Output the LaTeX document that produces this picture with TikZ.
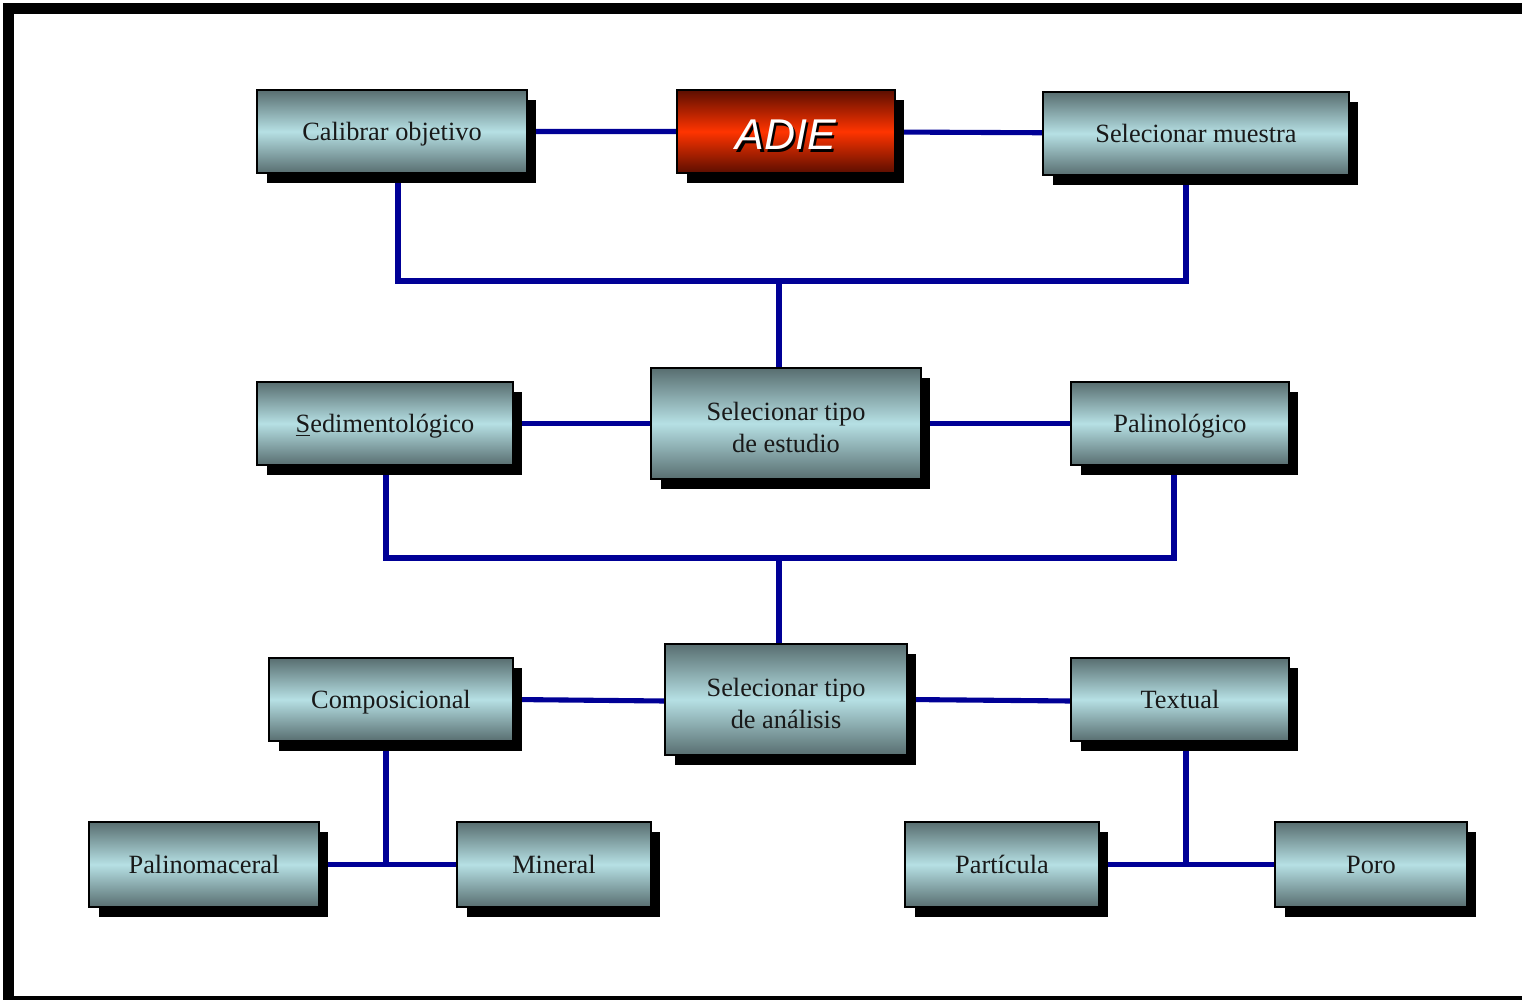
\documentclass[tikz,border=0pt]{standalone}
\usepackage{fontspec}
\setmainfont{Liberation Serif}
\newfontfamily\sansadie{Liberation Sans}
\usetikzlibrary{shadows,backgrounds}
\definecolor{grisfonce}{RGB}{88,110,112}
\definecolor{cyanclair}{RGB}{182,224,228}
\definecolor{rougefonce}{RGB}{92,14,0}
\definecolor{rougevif}{RGB}{255,52,0}
\definecolor{bleulien}{RGB}{0,0,150}
\begin{document}
\begin{tikzpicture}[x=0.02cm,y=-0.02cm]
			\tikzstyle{boite}=[draw=black,line width=0.7pt,inner sep=0pt,align=center,
				top color=grisfonce,bottom color=grisfonce,middle color=cyanclair,
				font=\fontsize{15}{18.2}\selectfont,text=black!90,
				drop shadow={opacity=1,fill=black,shadow xshift=0.19cm,shadow yshift=-0.2cm}]
			\tikzstyle{simple}=[boite,text height=12.5pt,text depth=2.5pt]
			\tikzstyle{rouge}=[boite,top color=rougefonce,bottom color=rougefonce,middle color=rougevif,
				font=\sansadie\itshape\fontsize{24.5}{28}\selectfont,text=white,
				text height=21pt,text depth=0pt]
			\tikzstyle{lien}=[draw=bleulien,line width=2.9pt]
			
			\def\HautBoite{1.66cm}
			\def\HautDouble{2.22cm}
			\def\Haut{\rule{0pt}{15pt}}
			
			\useasboundingbox (0,0) rectangle (1522,1000);
			% cadre
			\draw[line width=2.1mm] (8.5,1000) -- (8.5,8.5) -- (1522,8.5);
			\draw[line width=0.9mm] (5,998) -- (1522,998);
			
			% niveau 1
			\node[simple,minimum width=5.4cm,minimum height=\HautBoite] (Cal) at (392,131.5) {Calibrar objetivo};
			\node[rouge,minimum width=4.36cm,minimum height=\HautBoite] (ADIE) at (786,131.5)
				{\rlap{\hspace{1.3pt}\raisebox{-1.3pt}{\color{black}ADIE}}ADIE};
			\node[simple,minimum width=6.12cm,minimum height=\HautBoite] (Mue) at (1196,133.5) {Selecionar muestra};
			
			% niveau 2
			\node[simple,minimum width=5.12cm,minimum height=\HautBoite] (Sed) at (385,423.5) {\underline{S}edimentológico};
			\node[boite,minimum width=5.4cm,minimum height=\HautDouble] (Est) at (786,423.5) {\Haut Selecionar tipo\\de estudio};
			\node[simple,minimum width=4.36cm,minimum height=\HautBoite] (Pal) at (1180,423.5) {Palinológico};
			
			% niveau 3
			\node[simple,minimum width=4.88cm,minimum height=\HautBoite] (Com) at (391,699.5) {Composicional};
			\node[boite,minimum width=4.84cm,minimum height=\HautDouble] (Ana) at (786,699.5) {\Haut Selecionar tipo\\de análisis};
			\node[simple,minimum width=4.36cm,minimum height=\HautBoite] (Tex) at (1180,699.5) {Textual};
			
			% niveau 4
			\node[simple,minimum width=4.6cm,minimum height=1.7cm] (Pmc) at (204,864.5) {Palinomaceral};
			\node[simple,minimum width=3.88cm,minimum height=1.7cm] (Min) at (554,864.5) {Mineral};
			\node[simple,minimum width=3.88cm,minimum height=1.7cm] (Par) at (1002,864.5) {Partícula};
			\node[simple,minimum width=3.84cm,minimum height=1.7cm] (Por) at (1371,864.5) {Poro};
			
			% jonctions
			\coordinate (J1) at (779,281);
			\coordinate (J1g) at (398,281);
			\coordinate (J1d) at (1186,281);
			\coordinate (J2) at (779,558);
			\coordinate (J2g) at (386,558);
			\coordinate (J2d) at (1174,558);
			\coordinate (J3g) at (386,864);
			\coordinate (J3d) at (1186,864);
			
			\begin{scope}[on background layer]
				\draw[lien] (Cal) -- (ADIE) -- (Mue);
				\draw[lien] (J1g |- Cal) -- (J1g) -- (J1d) -- (J1d |- Mue);
				\draw[lien] (J1) -- (J1 |- Est.north);
				\draw[lien] (Sed) -- (Est) -- (Pal);
				\draw[lien] (J2g |- Sed) -- (J2g) -- (J2d) -- (J2d |- Pal);
				\draw[lien] (J2) -- (J2 |- Ana.north);
				\draw[lien] (Com.east) -- (Ana.west |- 0,701);
				\draw[lien] (Ana.east) -- (Tex.west |- 0,701);
				\draw[lien] (J3g |- Com) -- (J3g);
				\draw[lien] (Pmc) -- (Min);
				\draw[lien] (J3d |- Tex) -- (J3d);
				\draw[lien] (Par) -- (Por);
			\end{scope}
		\end{tikzpicture}
\end{document}
